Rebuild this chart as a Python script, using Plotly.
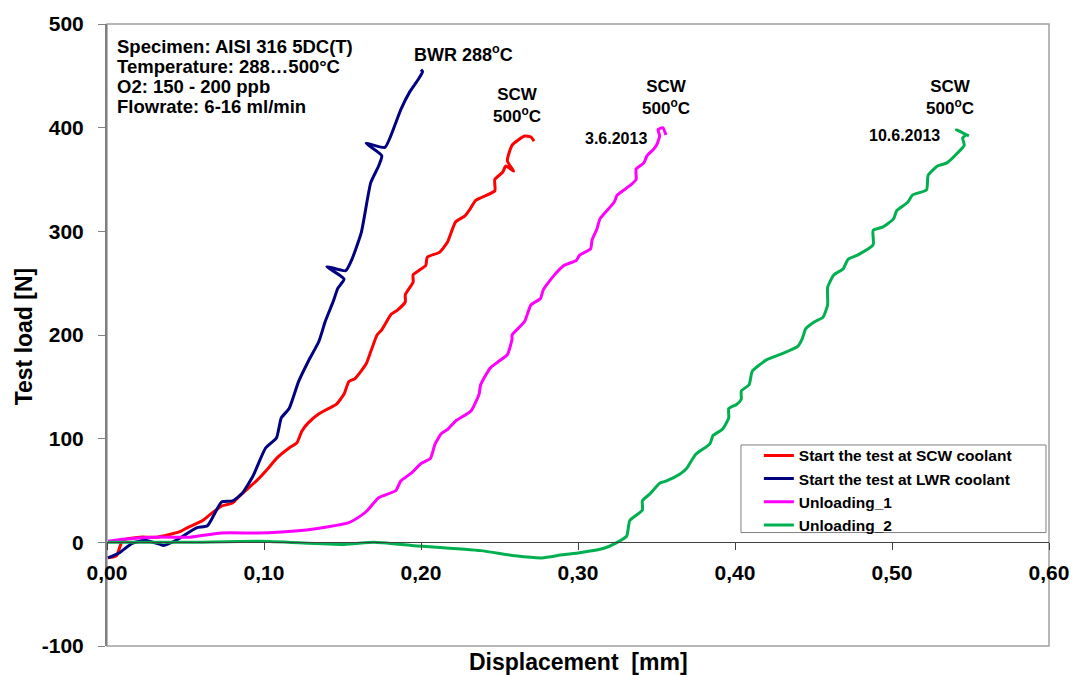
import plotly.graph_objects as go

# ---- data (displacement mm, load N) ----
scw_x = [0.0006, 0.006, 0.010, 0.021, 0.032, 0.046, 0.051, 0.061, 0.065, 0.073, 0.080, 0.086, 0.095,
         0.103, 0.108, 0.116, 0.121, 0.124, 0.128, 0.135, 0.141, 0.146, 0.151, 0.154, 0.158, 0.165,
         0.168, 0.172, 0.175, 0.181, 0.185, 0.190, 0.190, 0.195, 0.195, 0.203, 0.204, 0.212, 0.217,
         0.222, 0.228, 0.231, 0.235, 0.247, 0.247, 0.252, 0.254, 0.259, 0.255, 0.258, 0.266, 0.270, 0.272]
scw_y = [-15, -13, 2, 5, 5, 10, 14, 21, 26, 35, 38, 47, 59,
         72, 81, 91, 96, 107, 115, 124, 129, 133, 143, 155, 158, 172,
         184, 200, 205, 220, 224, 232, 239, 251, 258, 267, 275, 280, 290,
         309, 315, 321, 330, 339, 350, 357, 363, 358, 368, 383, 392, 391, 387]

lwr_x = [0.0006, 0.008, 0.016, 0.024, 0.034, 0.036, 0.044, 0.057, 0.064, 0.073, 0.080, 0.086, 0.093,
         0.101, 0.108, 0.111, 0.116, 0.122, 0.128, 0.135, 0.139, 0.144, 0.147, 0.151, 0.140, 0.152,
         0.156, 0.162, 0.168, 0.173, 0.175, 0.165, 0.177, 0.184, 0.187, 0.193, 0.198, 0.201, 0.200]
lwr_y = [-15, -10, -1, 2, -2, -3, 2, 14, 16, 39, 40, 47, 64,
         91, 101, 120, 129, 155, 174, 194, 213, 232, 245, 254, 266, 262,
         273, 299, 347, 363, 373, 385, 381, 405, 417, 435, 446, 454, 456]

unl1_x = [0.0006, 0.010, 0.032, 0.053, 0.073, 0.095, 0.111, 0.127, 0.141, 0.154, 0.162, 0.166, 0.173,
          0.184, 0.187, 0.194, 0.200, 0.206, 0.209, 0.213, 0.217, 0.222, 0.232, 0.237, 0.238, 0.244,
          0.249, 0.255, 0.258, 0.258, 0.266, 0.270, 0.276, 0.278, 0.285, 0.291, 0.299, 0.301, 0.308,
          0.309, 0.312, 0.314, 0.323, 0.325, 0.333, 0.337, 0.337, 0.342, 0.344, 0.348, 0.350, 0.352,
          0.351, 0.354, 0.356]
unl1_y = [1, 3, 5, 5, 9, 9, 10, 12, 15, 19, 26, 31, 43,
          50, 59, 67, 76, 81, 95, 105, 109, 117, 127, 143, 152, 168,
          174, 181, 196, 200, 213, 229, 235, 244, 258, 267, 272, 277, 283,
          292, 302, 312, 328, 335, 344, 350, 360, 366, 373, 379, 383, 392,
          398, 400, 393]

unl2_x = [0.0006, 0.050, 0.098, 0.151, 0.170, 0.194, 0.238, 0.260, 0.277, 0.290, 0.301, 0.316, 0.325,
          0.331, 0.333, 0.341, 0.341, 0.346, 0.352, 0.356, 0.365, 0.369, 0.375, 0.384, 0.386, 0.392,
          0.396, 0.396, 0.401, 0.404, 0.404, 0.409, 0.411, 0.420, 0.430, 0.440, 0.443, 0.445, 0.451,
          0.456, 0.459, 0.459, 0.463, 0.469, 0.472, 0.478, 0.488, 0.488, 0.494, 0.501, 0.503, 0.510,
          0.513, 0.522, 0.523, 0.529, 0.535, 0.542, 0.546, 0.545, 0.547, 0.541, 0.549]
unl2_y = [0, 0, 1, -2, 0, -3, -8, -13, -15, -12, -10, -6, 0,
          6, 21, 31, 40, 47, 57, 59, 66, 71, 85, 95, 103, 109,
          120, 129, 133, 138, 146, 152, 165, 176, 182, 189, 197, 206, 213,
          217, 229, 246, 258, 264, 273, 277, 287, 301, 304, 312, 320, 328,
          335, 340, 354, 363, 366, 376, 383, 390, 393, 398, 392]

series_names = ["Start the test at SCW coolant", "Start the test at LWR coolant", "Unloading_1", "Unloading_2"]
series_colors = ["#FF0000", "#000080", "#FF00FF", "#00B050"]

x_ticks = [0.0, 0.1, 0.2, 0.3, 0.4, 0.5, 0.6]
y_ticks = [-100, 0, 100, 200, 300, 400, 500]
y_tick_labels = ["-100", "0", "100", "200", "300", "400", "500"]

info_lines = ["Specimen: AISI 316 5DC(T)", "Temperature: 288…500°C", "O2: 150 - 200 ppb", "Flowrate: 6-16 ml/min"]

FONT = "Liberation Sans, Arial, sans-serif"

fig = go.Figure()
for xs, ys, name, col in zip([scw_x, lwr_x, unl1_x, unl2_x], [scw_y, lwr_y, unl1_y, unl2_y],
                             series_names, series_colors):
    fig.add_trace(go.Scatter(x=xs, y=ys, mode="lines", name=name,
                             line=dict(color=col, width=3, shape="spline", smoothing=0.5)))

fig.update_layout(
    width=1081, height=675,
    margin=dict(l=107, r=24, t=21, b=29),
    paper_bgcolor="white", plot_bgcolor="white",
    separators=", ",
    font=dict(family=FONT, color="black", size=15),
    showlegend=True,
    legend=dict(x=0.692, y=0.333, xanchor="left", yanchor="top",
                borderwidth=0, bgcolor="rgba(0,0,0,0)",
                font=dict(family=FONT, size=15.5, color="black", weight="bold"),
                tracegroupgap=0, itemwidth=30),
    xaxis=dict(range=[0, 0.6], tickvals=x_ticks, tickformat=".2f",
               anchor="free", position=1/6,
               showline=True, linecolor="#404040", linewidth=1,
               ticks="outside", ticklen=7, tickcolor="#404040",
               showgrid=False, zeroline=False,
               tickfont=dict(family=FONT, size=21, weight="bold"),
               ticklabelstandoff=4),
    yaxis=dict(range=[-100, 500], tickvals=y_ticks, ticktext=y_tick_labels,
               showline=True, linecolor="#808080", linewidth=2,
               ticks="outside", ticklen=7, tickcolor="#808080",
               showgrid=False, zeroline=False,
               tickfont=dict(family=FONT, size=21, weight="bold"),
               ticklabelstandoff=10),
    shapes=[
        dict(type="rect", xref="paper", yref="paper", x0=0, x1=1, y0=0, y1=1,
             line=dict(color="#A0A0A0", width=1.5), layer="below"),
        dict(type="rect", xref="paper", yref="paper", x0=0.673, x1=0.9968, y0=0.1824, y1=0.3232,
             line=dict(color="#808080", width=1), fillcolor="white", layer="above"),
    ],
)

annos = []
for i, line in enumerate(info_lines):
    annos.append(dict(text=line, x=0.009, y=0.9632 - i * 0.032, xref="paper", yref="paper",
                      xanchor="left", yanchor="middle", align="left",
                      font=dict(size=18.5, weight="bold")))
annos += [
    dict(text="BWR 288<sup>o</sup>C", x=0.227, y=472, xanchor="center", yanchor="middle",
         font=dict(size=18, weight="bold")),
    dict(text="SCW<br>500<sup>o</sup>C", x=0.261, y=421, xanchor="center", yanchor="middle",
         font=dict(size=17, weight="bold")),
    dict(text="SCW<br>500<sup>o</sup>C", x=0.356, y=429, xanchor="center", yanchor="middle",
         font=dict(size=17, weight="bold")),
    dict(text="SCW<br>500<sup>o</sup>C", x=0.537, y=429, xanchor="center", yanchor="middle",
         font=dict(size=17, weight="bold")),
    dict(text="3.6.2013", x=0.324, y=390, xanchor="center", yanchor="middle",
         font=dict(size=16, weight="bold")),
    dict(text="10.6.2013", x=0.508, y=392, xanchor="center", yanchor="middle",
         font=dict(size=16, weight="bold")),
    dict(text="Test load [N]", x=-0.088, y=0.498, xref="paper", yref="paper", textangle=-90,
         xanchor="center", yanchor="middle", font=dict(size=23, weight="bold")),
    dict(text="Displacement  [mm]", x=0.5, y=-0.026, xref="paper", yref="paper",
         xanchor="center", yanchor="middle", font=dict(size=23, weight="bold")),
]
for a in annos:
    a.setdefault("xref", "x")
    a.setdefault("yref", "y")
    a["showarrow"] = False
    fig.add_annotation(**a)

fig.write_html("out.html")
